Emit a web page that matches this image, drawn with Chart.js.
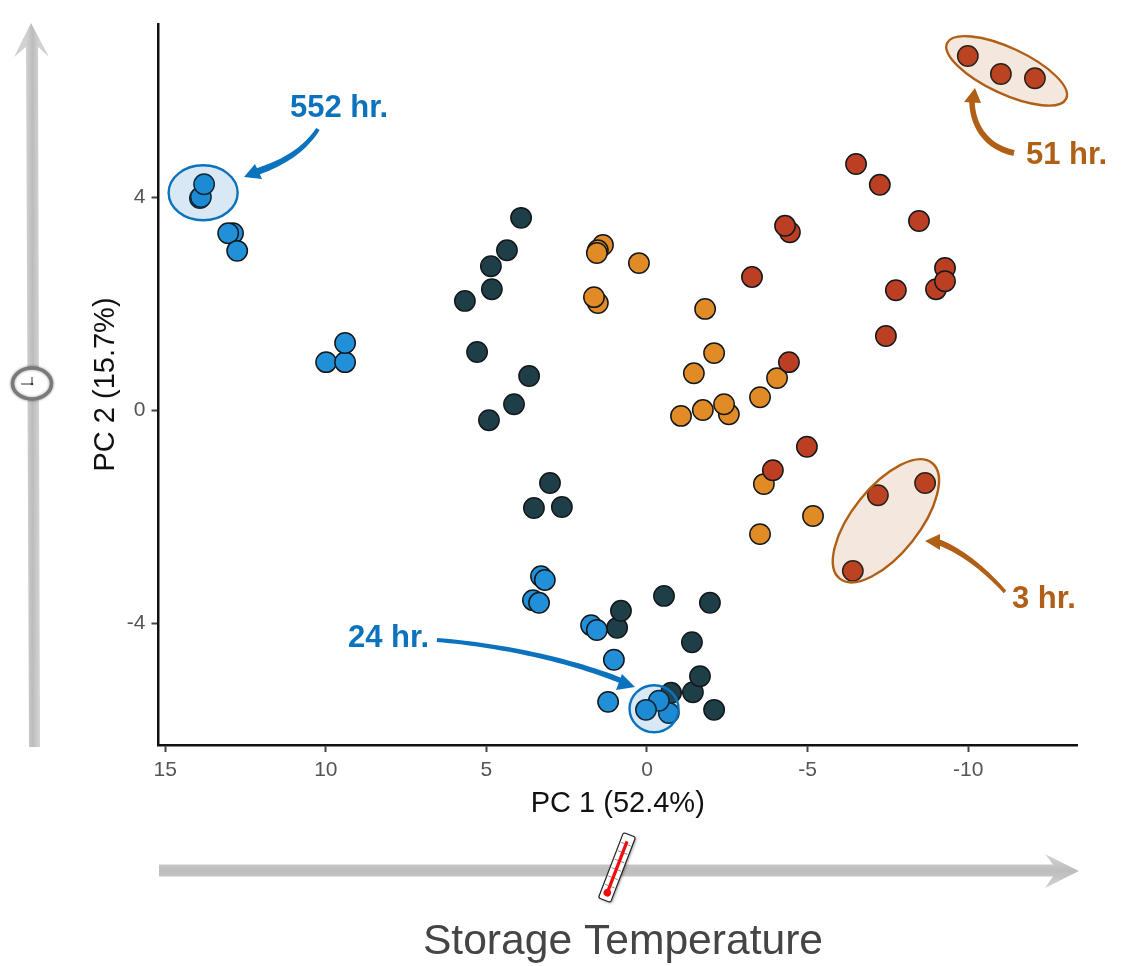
<!DOCTYPE html>
<html>
<head>
<meta charset="utf-8">
<title>PCA storage</title>
<script src="https://cdn.jsdelivr.net/npm/chart.js@4"></script>
<style>
    html, body { margin: 0; padding: 0; background: #fff; }
    canvas { display: block; }
</style>
</head>
<body>
<canvas id="pcaChart" width="1127" height="966"></canvas>
<script>
// PC scores
const darkPoints = [
    [3.92, 3.61], [4.36, 3.00], [4.86, 2.70], [4.83, 2.27], [5.67, 2.05], [5.29, 1.09], [3.67, 0.64],
    [4.14, 0.11], [4.92, -0.19], [3.02, -1.37], [3.52, -1.84], [2.65, -1.82], [0.93, -4.09], [0.81, -3.77],
    [-0.53, -3.49], [-1.96, -3.62], [-1.40, -4.36], [-0.75, -5.31], [-1.43, -5.30], [-1.65, -5.00], [-2.09, -5.63]
];
const bluePoints = [
    [13.92, 3.98], [13.89, 4.00], [13.79, 4.24], [12.89, 3.32], [13.04, 3.32], [12.76, 2.99],
    [9.99, 0.90], [9.40, 0.90], [9.40, 1.26], [3.30, -3.12], [3.18, -3.19], [3.55, -3.57], [3.36, -3.62],
    [1.74, -4.04], [1.56, -4.13], [1.03, -4.69], [1.21, -5.48], [-0.68, -5.69], [-0.37, -5.46], [0.03, -5.63]
];
const orangePoints = [
    [1.37, 3.10], [1.53, 3.00], [1.56, 2.95], [0.25, 2.76], [1.53, 2.01], [1.65, 2.12], [-1.81, 1.90],
    [-2.09, 1.07], [-1.46, 0.69], [-4.05, 0.60], [-3.52, 0.24], [-2.55, -0.08], [-2.40, 0.11], [-1.74, 0],
    [-1.06, -0.11], [-3.64, -1.39], [-5.17, -1.99], [-3.52, -2.33]
];
const redPoints = [
    [-9.99, 6.65], [-11.02, 6.31], [-12.08, 6.23], [-6.51, 4.62], [-7.25, 4.23], [-8.47, 3.55],
    [-4.45, 3.34], [-4.30, 3.46], [-3.27, 2.50], [-9.28, 2.67], [-9.00, 2.27], [-9.28, 2.42],
    [-7.75, 2.25], [-7.44, 1.39], [-4.42, 0.90], [-4.98, -0.69], [-3.92, -1.13], [-7.19, -1.60],
    [-8.66, -1.37], [-6.41, -3.02]
];
const xTicks = [15, 10, 5, 0, -5, -10];
const yTicks = [4, 0, -4];

const xTitle = 'PC 1 (52.4%)';
const yTitle = 'PC 2 (15.7%)';
const bottomTitle = 'Storage Temperature';

const BLUE = '#0b72bd';
const BROWN = '#b05f17';
const FONT = '"Liberation Sans", Arial, sans-serif';

function toXY(list) {
    return list.map(p => ({ x: p[0], y: p[1] }));
}

function pointSet(label, list, colour, order) {
    return {
        label: label,
        data: toXY(list),
        order: order,
        backgroundColor: colour,
        borderColor: '#14181a',
        borderWidth: 1.5,
        pointRadius: 10.2,
        pointHoverRadius: 10.2
    };
}

// Ellipse around a group, centred in data units so it follows the scales
function groupEllipse(ctx, chart, cx, cy, a, b, angle, stroke, fill) {
    const px = chart.scales.x.getPixelForValue(cx);
    const py = chart.scales.y.getPixelForValue(cy);
    ctx.beginPath();
    ctx.ellipse(px, py, a, b, angle * Math.PI / 180, 0, Math.PI * 2);
    ctx.fillStyle = fill;
    ctx.fill();
    ctx.lineWidth = 2.4;
    ctx.strokeStyle = stroke;
    ctx.stroke();
}

// Curved callout arrow, gets wider towards the head
function callout(ctx, start, c1, c2, end, head, colour, w0, w1) {
    const left = [];
    const right = [];
    for (let i = 0; i <= 30; i++) {
        const t = i / 30;
        const u = 1 - t;
        const x = u * u * u * start[0] + 3 * u * u * t * c1[0] + 3 * u * t * t * c2[0] + t * t * t * end[0];
        const y = u * u * u * start[1] + 3 * u * u * t * c1[1] + 3 * u * t * t * c2[1] + t * t * t * end[1];
        const dx = 3 * u * u * (c1[0] - start[0]) + 6 * u * t * (c2[0] - c1[0]) + 3 * t * t * (end[0] - c2[0]);
        const dy = 3 * u * u * (c1[1] - start[1]) + 6 * u * t * (c2[1] - c1[1]) + 3 * t * t * (end[1] - c2[1]);
        const len = Math.hypot(dx, dy);
        const w = (w0 + (w1 - w0) * t) / 2;
        left.push([x - dy / len * w, y + dx / len * w]);
        right.unshift([x + dy / len * w, y - dx / len * w]);
    }
    ctx.fillStyle = colour;
    ctx.beginPath();
    left.concat(right).forEach((p, i) => {
        if (i === 0) ctx.moveTo(p[0], p[1]);
        else ctx.lineTo(p[0], p[1]);
    });
    ctx.closePath();
    ctx.fill();
    ctx.beginPath();
    ctx.moveTo(head[0][0], head[0][1]);
    ctx.lineTo(head[1][0], head[1][1]);
    ctx.lineTo(head[2][0], head[2][1]);
    ctx.closePath();
    ctx.fill();
}

function label(ctx, text, x, y, colour) {
    ctx.font = 'bold 31px ' + FONT;
    ctx.fillStyle = colour;
    ctx.textAlign = 'left';
    ctx.textBaseline = 'alphabetic';
    ctx.fillText(text, x, y);
}

// Grey arrows, clock and thermometer outside the plot
function drawSideArrows(ctx) {
    let g = ctx.createLinearGradient(0, 854, 0, 888);
    g.addColorStop(0, '#d6d6d6');
    g.addColorStop(0.5, '#bdbdbd');
    g.addColorStop(1, '#d2d2d2');
    ctx.fillStyle = g;
    ctx.beginPath();
    ctx.moveTo(159, 864.5);
    ctx.lineTo(1053, 864.5);
    ctx.lineTo(1045, 854);
    ctx.lineTo(1079, 871);
    ctx.lineTo(1045, 888);
    ctx.lineTo(1053, 876.5);
    ctx.lineTo(159, 876.5);
    ctx.closePath();
    ctx.fill();

    g = ctx.createLinearGradient(26, 0, 39, 0);
    g.addColorStop(0, '#d2d2d2');
    g.addColorStop(0.5, '#bcbcbc');
    g.addColorStop(1, '#d2d2d2');
    ctx.fillStyle = g;
    ctx.beginPath();
    ctx.moveTo(29, 747);
    ctx.lineTo(26, 47);
    ctx.lineTo(14, 57);
    ctx.lineTo(31, 23);
    ctx.lineTo(49, 57);
    ctx.lineTo(38, 47);
    ctx.lineTo(40, 747);
    ctx.closePath();
    ctx.fill();
}

function drawClock(ctx) {
    ctx.save();
    ctx.shadowColor = 'rgba(0,0,0,0.4)';
    ctx.shadowBlur = 3;
    ctx.beginPath();
    ctx.ellipse(32, 383.5, 19.5, 15.5, 0, 0, Math.PI * 2);
    ctx.fillStyle = '#fff';
    ctx.fill();
    ctx.lineWidth = 3.6;
    ctx.strokeStyle = '#7a7a7a';
    ctx.stroke();
    ctx.restore();
    ctx.strokeStyle = '#333';
    ctx.lineWidth = 1;
    ctx.beginPath();
    ctx.moveTo(21, 384);
    ctx.lineTo(32, 384);
    ctx.moveTo(32, 377);
    ctx.lineTo(32, 385);
    ctx.stroke();
    ctx.fillStyle = '#333';
    ctx.beginPath();
    ctx.arc(32, 384, 1.3, 0, Math.PI * 2);
    ctx.fill();
}

function drawThermometer(ctx) {
    ctx.save();
    ctx.translate(617, 867.5);
    ctx.rotate(21 * Math.PI / 180);
    ctx.save();
    ctx.shadowColor = 'rgba(0,0,0,0.45)';
    ctx.shadowBlur = 3;
    ctx.shadowOffsetX = 1;
    ctx.shadowOffsetY = 1;
    ctx.beginPath();
    ctx.roundRect(-6.5, -35, 13, 70, 2);
    ctx.fillStyle = '#fff';
    ctx.fill();
    ctx.restore();
    ctx.lineWidth = 1.2;
    ctx.strokeStyle = '#222';
    ctx.stroke();
    ctx.strokeStyle = '#777';
    ctx.lineWidth = 0.8;
    for (let t = -25; t <= 20; t += 9) {
        ctx.beginPath();
        ctx.moveTo(-5, t);
        ctx.lineTo(-1.5, t);
        ctx.moveTo(1.5, t);
        ctx.lineTo(5, t);
        ctx.stroke();
    }
    ctx.strokeStyle = '#f40b0b';
    ctx.lineWidth = 3.2;
    ctx.beginPath();
    ctx.moveTo(0, -28);
    ctx.lineTo(0, 28);
    ctx.stroke();
    ctx.fillStyle = '#f40b0b';
    ctx.beginPath();
    ctx.arc(0, 27, 3.8, 0, Math.PI * 2);
    ctx.fill();
    ctx.restore();
}

const decorations = {
    id: 'decorations',
    afterDatasetsDraw(chart) {
        const ctx = chart.ctx;
        ctx.save();
        groupEllipse(ctx, chart, 13.82, 4.08, 34.5, 27.5, 0, BLUE, 'rgba(11,114,189,0.16)');
        groupEllipse(ctx, chart, -0.22, -5.61, 24.5, 23.5, 0, BLUE, 'rgba(11,114,189,0.16)');
        groupEllipse(ctx, chart, -11.2, 6.37, 65.7, 23, 25, BROWN, 'rgba(176,95,23,0.14)');
        groupEllipse(ctx, chart, -7.44, -2.08, 74, 33.4, -51.4, BROWN, 'rgba(176,95,23,0.14)');

        callout(ctx, [318, 129], [303, 152], [280, 164], [256, 172],
            [[244, 177], [255, 164], [262, 179]], BLUE, 4, 7);
        callout(ctx, [437, 640], [500, 645], [570, 660], [622, 681],
            [[635, 687], [622, 674], [616, 690]], BLUE, 4, 5.5);
        callout(ctx, [1014, 153], [990, 148], [973, 130], [972, 102],
            [[975, 88], [964, 102], [981, 103]], BROWN, 6, 5.5);
        callout(ctx, [1005, 592], [990, 575], [965, 552], [938, 542],
            [[925, 541], [940, 534], [940, 550]], BROWN, 3.5, 6);

        label(ctx, '552 hr.', 290, 117, BLUE);
        label(ctx, '24 hr.', 348, 647, BLUE);
        label(ctx, '51 hr.', 1026, 164, BROWN);
        label(ctx, '3 hr.', 1012, 608, BROWN);

        drawSideArrows(ctx);
        drawClock(ctx);
        drawThermometer(ctx);

        ctx.font = '42.6px ' + FONT;
        ctx.fillStyle = '#454545';
        ctx.textAlign = 'center';
        ctx.textBaseline = 'alphabetic';
        ctx.fillText(bottomTitle, 623, 954);
        ctx.restore();
    }
};

new Chart(document.getElementById('pcaChart').getContext('2d'), {
    type: 'scatter',
    data: {
        datasets: [
            pointSet('Blue', bluePoints, '#2190d9', 1),
            pointSet('Dark', darkPoints, '#1f3f48', 2),
            pointSet('Red', redPoints, '#bd3f23', 3),
            pointSet('Orange', orangePoints, '#e18b26', 4)
        ]
    },
    options: {
        responsive: false,
        animation: false,
        layout: { padding: { left: 85, right: 50, top: 24, bottom: 141 } },
        plugins: {
            legend: { display: false },
            tooltip: { enabled: false }
        },
        scales: {
            x: {
                type: 'linear',
                reverse: true,
                min: -13.39,
                max: 15.21,
                afterBuildTicks: scale => { scale.ticks = xTicks.map(v => ({ value: v })); },
                afterFit: scale => { scale.height = 80; },
                grid: { drawOnChartArea: false, tickLength: 7, tickColor: '#444', tickWidth: 2 },
                border: { display: true, color: '#111', width: 2.5 },
                ticks: { color: '#555', font: { family: FONT, size: 21 }, padding: 6, maxRotation: 0, autoSkip: false },
                title: { display: true, text: xTitle, color: '#111', font: { family: FONT, size: 29 }, padding: { top: 4 } }
            },
            y: {
                type: 'linear',
                min: -6.29,
                max: 7.25,
                afterBuildTicks: scale => { scale.ticks = yTicks.map(v => ({ value: v })); },
                afterFit: scale => { scale.width = 73.5; },
                grid: { drawOnChartArea: false, tickLength: 7, tickColor: '#444', tickWidth: 2 },
                border: { display: true, color: '#111', width: 2.5 },
                ticks: { color: '#555', font: { family: FONT, size: 21 }, padding: 6, autoSkip: false },
                title: { display: true, text: yTitle, color: '#111', font: { family: FONT, size: 29 }, padding: { bottom: 0 } }
            }
        }
    },
    plugins: [decorations]
});
</script>
</body>
</html>
